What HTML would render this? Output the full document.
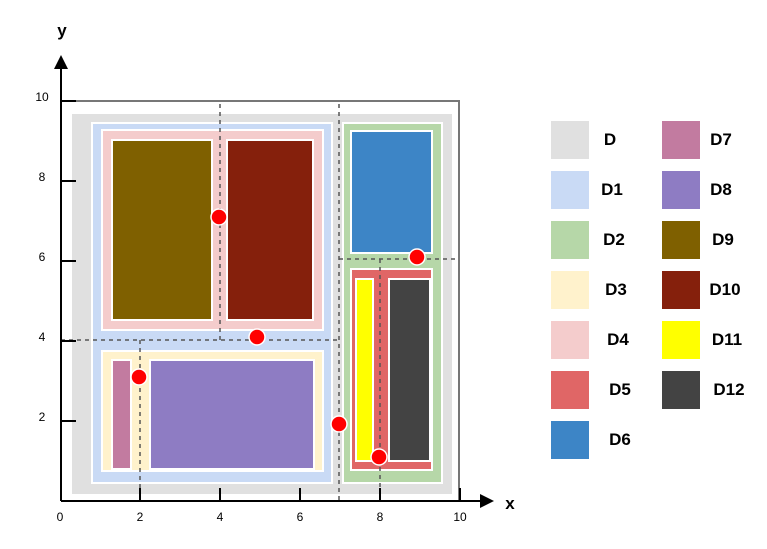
<!DOCTYPE html>
<html><head><style>body{margin:0;background:#fff}</style></head><body>
<svg width="767" height="544" xmlns="http://www.w3.org/2000/svg" font-family="Liberation Sans, sans-serif">
<rect width="767" height="544" fill="#fff"/>
<!-- frame lines -->
<line x1="61" y1="101" x2="460" y2="101" stroke="#777" stroke-width="2"/>
<line x1="459" y1="101" x2="459" y2="501" stroke="#777" stroke-width="2"/>
<g stroke="#fff" stroke-width="2">
<rect x="72" y="114" width="380" height="380" fill="#e0e0e0" stroke="none"/>
<rect x="92" y="123" width="240" height="360" fill="#c9daf5"/>
<rect x="102" y="130" width="221" height="200" fill="#f4cccc"/>
<rect x="112" y="140" width="100" height="180" fill="#7f6000"/>
<rect x="227" y="140" width="86" height="180" fill="#85200c"/>
<rect x="102" y="351" width="221" height="120" fill="#fff2cc"/>
<rect x="112" y="360" width="19" height="109" fill="#c27ba0"/>
<rect x="150" y="360" width="164" height="109" fill="#8e7cc3"/>
<rect x="343" y="123" width="99" height="360" fill="#b6d7a8"/>
<rect x="351" y="131" width="81" height="122" fill="#3d85c6"/>
<rect x="351" y="269" width="81" height="201" fill="#e06666"/>
<rect x="356" y="279" width="17" height="182" fill="#ffff00"/>
<rect x="389" y="279" width="41" height="182" fill="#434343"/>
</g>
<g stroke="#555" stroke-width="1.5" stroke-dasharray="4,4" fill="none">
<line x1="220" y1="104" x2="220" y2="340"/>
<line x1="339" y1="104" x2="339" y2="501"/>
<line x1="61" y1="340" x2="339" y2="340"/>
<line x1="339" y1="259" x2="458" y2="259"/>
<line x1="140" y1="340" x2="140" y2="501"/>
<line x1="380" y1="259" x2="380" y2="501"/>
</g>
<!-- axes -->
<g stroke="#000" stroke-width="2">
<line x1="61" y1="501" x2="61" y2="66"/>
<line x1="61" y1="501" x2="482" y2="501"/>
<line x1="61" y1="101" x2="76" y2="101"/><line x1="61" y1="181" x2="76" y2="181"/><line x1="61" y1="261" x2="76" y2="261"/><line x1="61" y1="341" x2="76" y2="341"/><line x1="61" y1="421" x2="76" y2="421"/>
<line x1="140" y1="501" x2="140" y2="488"/><line x1="220" y1="501" x2="220" y2="488"/><line x1="300" y1="501" x2="300" y2="488"/><line x1="380" y1="501" x2="380" y2="488"/><line x1="460" y1="501" x2="460" y2="488"/>
</g>
<polygon points="61,55 54,69 68,69" fill="#000"/>
<polygon points="494,501 480,494 480,508" fill="#000"/>
<g font-size="12" fill="#000" text-anchor="middle">
<text x="42" y="101">10</text><text x="42" y="181">8</text><text x="42" y="261">6</text><text x="42" y="341">4</text><text x="42" y="421">2</text>
<text x="60" y="521">0</text><text x="140" y="521">2</text><text x="220" y="521">4</text><text x="300" y="521">6</text><text x="380" y="521">8</text><text x="460" y="521">10</text>
</g>
<text x="62" y="36" font-size="17" font-weight="bold" text-anchor="middle">y</text>
<text x="510" y="509" font-size="17" font-weight="bold" text-anchor="middle">x</text>
<!-- dots -->
<g fill="#ff0000" stroke="#fff" stroke-width="1.5">
<circle cx="219" cy="217" r="8"/><circle cx="257" cy="337" r="8"/><circle cx="139" cy="377" r="8"/>
<circle cx="339" cy="424" r="8"/><circle cx="417" cy="257" r="8"/><circle cx="379" cy="457" r="8"/>
</g>
<!-- legend -->
<rect x="551" y="121" width="38" height="38" fill="#e0e0e0"/>
<rect x="551" y="171" width="38" height="38" fill="#c9daf5"/>
<rect x="551" y="221" width="38" height="38" fill="#b6d7a8"/>
<rect x="551" y="271" width="38" height="38" fill="#fff2cc"/>
<rect x="551" y="321" width="38" height="38" fill="#f4cccc"/>
<rect x="551" y="371" width="38" height="38" fill="#e06666"/>
<rect x="551" y="421" width="38" height="38" fill="#3d85c6"/>
<rect x="662" y="121" width="38" height="38" fill="#c27ba0"/>
<rect x="662" y="171" width="38" height="38" fill="#8e7cc3"/>
<rect x="662" y="221" width="38" height="38" fill="#7f6000"/>
<rect x="662" y="271" width="38" height="38" fill="#85200c"/>
<rect x="662" y="321" width="38" height="38" fill="#ffff00"/>
<rect x="662" y="371" width="38" height="38" fill="#434343"/>
<g font-size="17" font-weight="bold" text-anchor="middle">
<text x="610" y="145">D</text><text x="612" y="195">D1</text><text x="614" y="245">D2</text><text x="616" y="295">D3</text><text x="618" y="345">D4</text><text x="620" y="395">D5</text><text x="620" y="445">D6</text>
<text x="721" y="145">D7</text><text x="721" y="195">D8</text><text x="723" y="245">D9</text><text x="725" y="295">D10</text><text x="727" y="345">D11</text><text x="729" y="395">D12</text>
</g>
</svg>
</body></html>
